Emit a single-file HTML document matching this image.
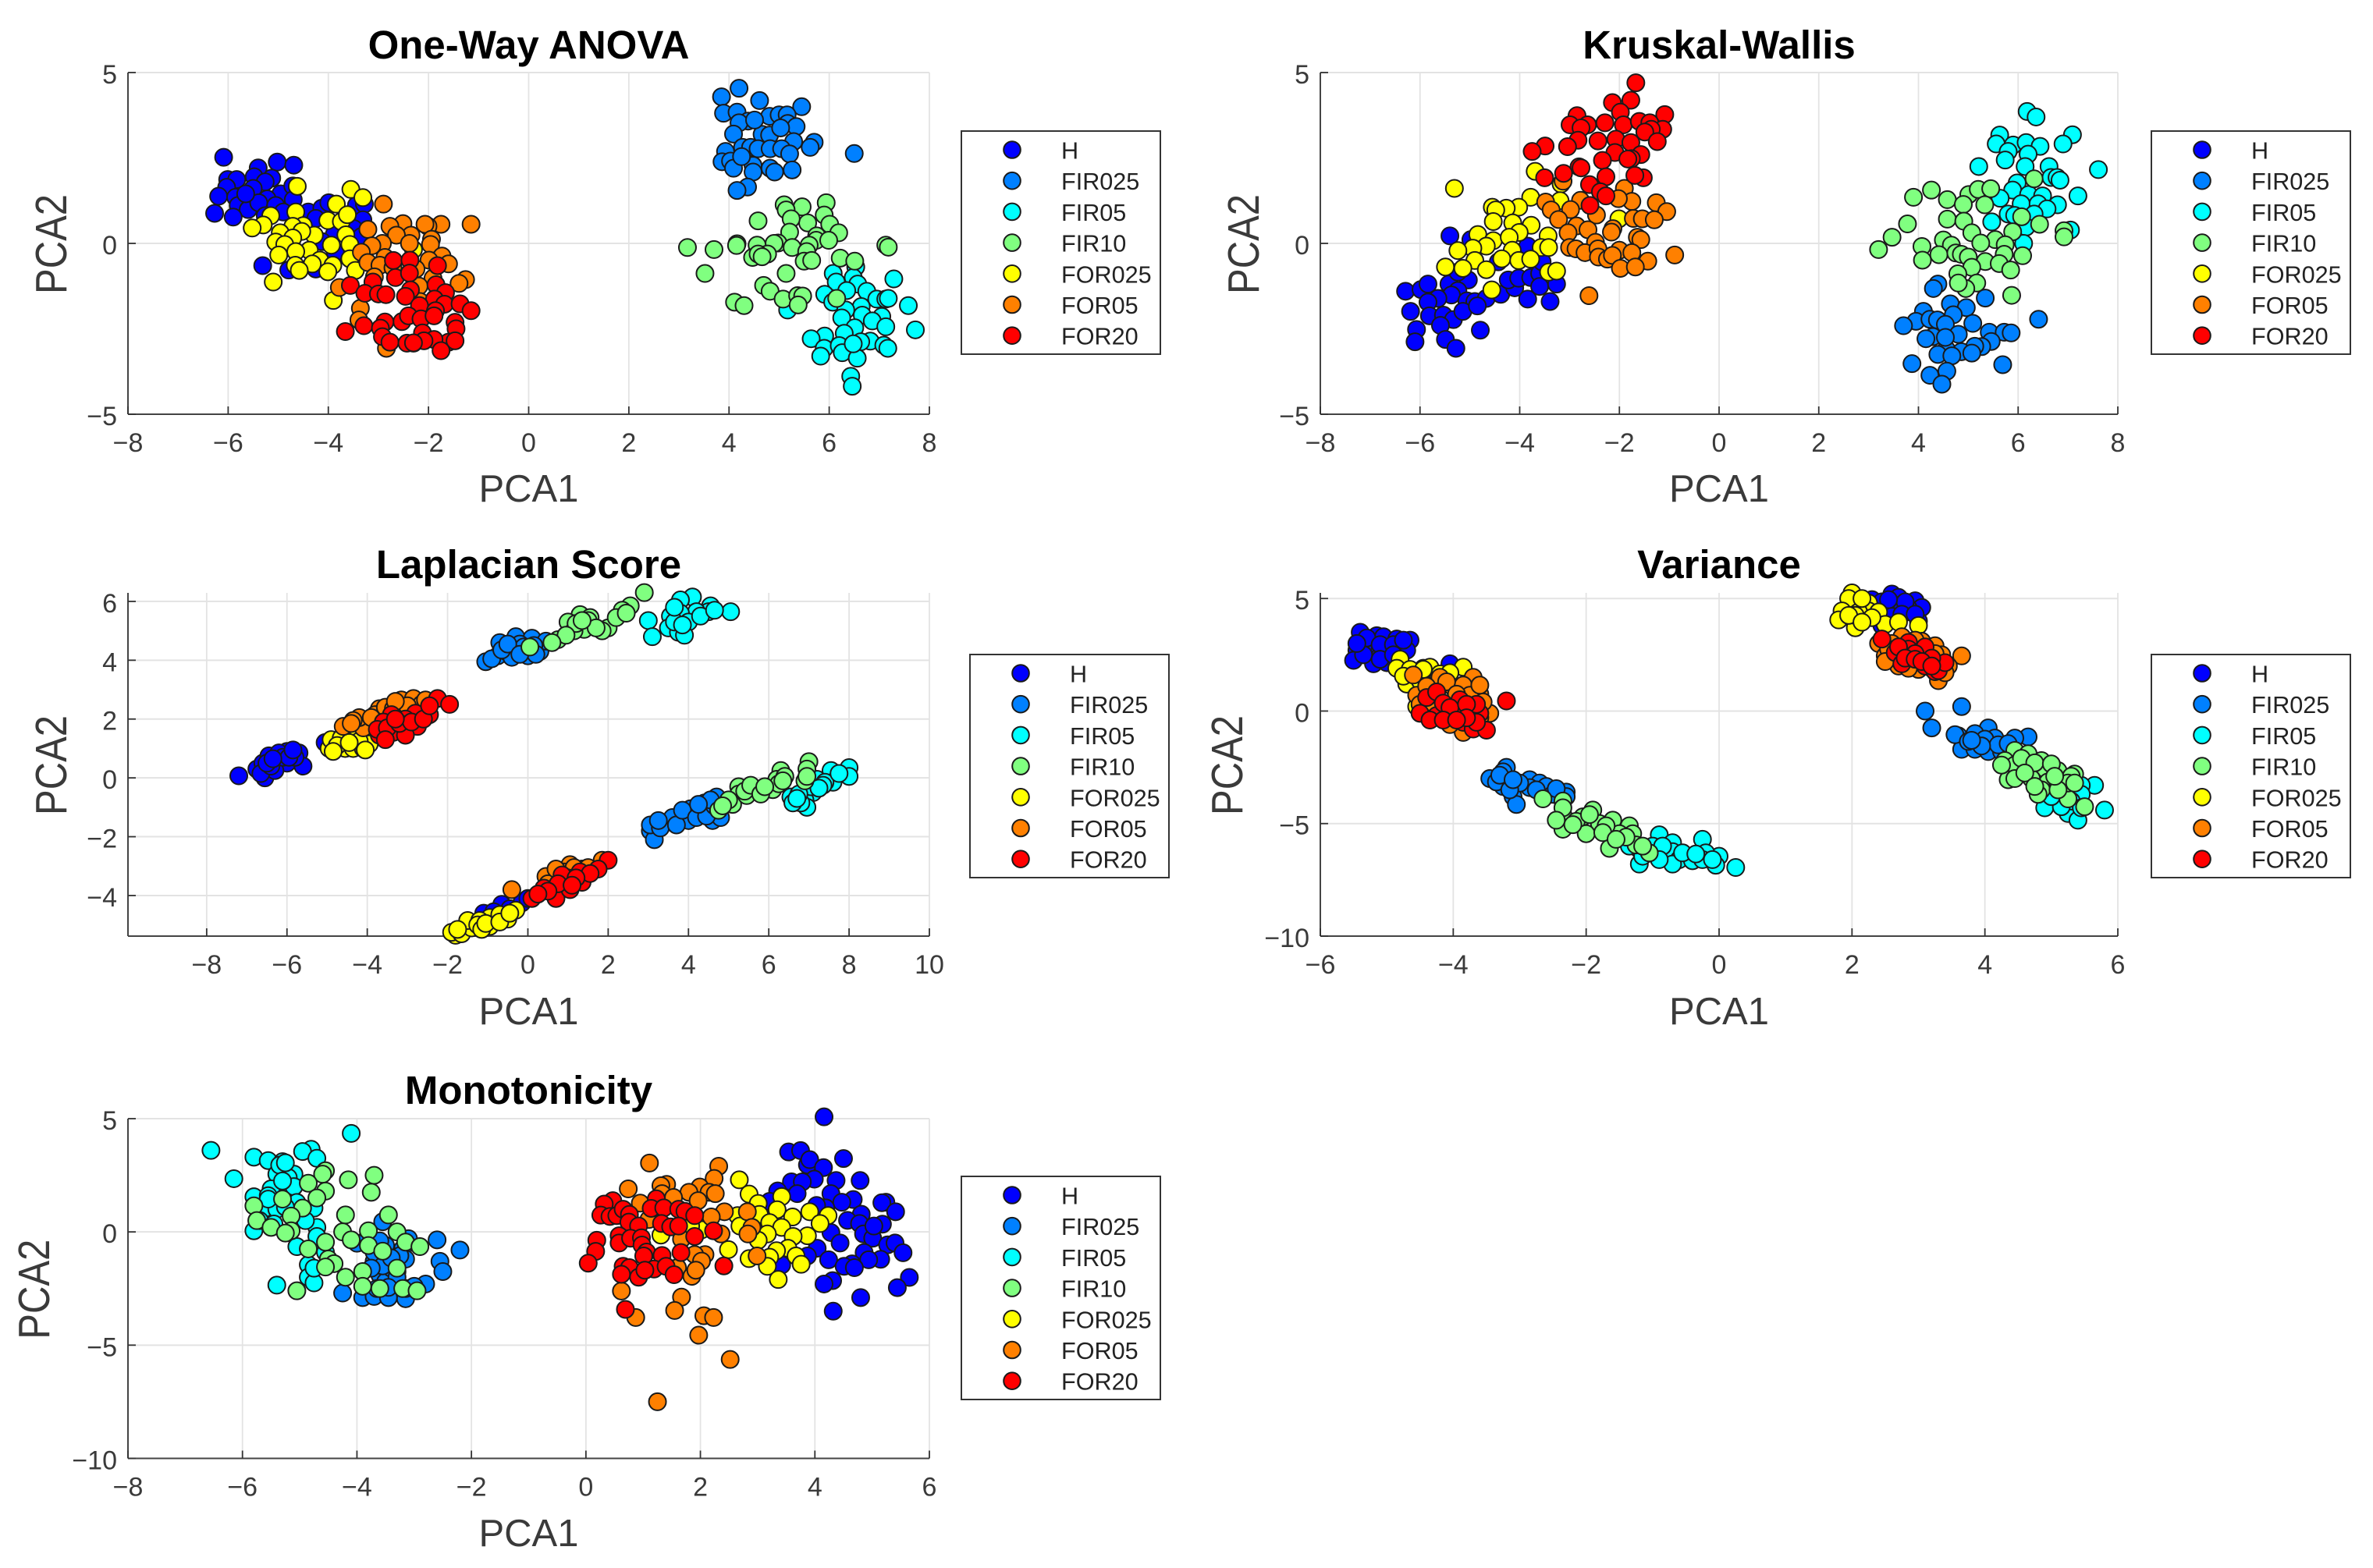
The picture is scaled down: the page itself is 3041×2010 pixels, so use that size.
<!DOCTYPE html>
<html lang="en">
<head>
<meta charset="utf-8">
<title>PCA scatter plots by feature selection method</title>
<style>
html,body{margin:0;padding:0;background:#fff;}
svg{display:block;}
text{font-family:"Liberation Sans",Arial,sans-serif;}
</style>
</head>
<body>
<svg id="figure" xmlns="http://www.w3.org/2000/svg" width="3041" height="2010" viewBox="0 0 3041 2010"></svg>
<script>
const classNames = ["H","FIR025","FIR05","FIR10","FOR025","FOR05","FOR20"];
const classColors = ["#0000ff","#0080ff","#00ffff","#80ff80","#ffff00","#ff8000","#ff0000"];

/* One-Way ANOVA: [PCA1, PCA2] */
const anovaH = [[-6.09,2.52],[-5.02,2.38],[-4.69,2.29],[-5.4,2.21],[-6.01,1.87],[-5.83,1.87],[-5.48,1.95],[-5.13,1.91],[-5.26,1.8],[-6.03,1.64],[-5.5,1.61],[-4.95,1.45],[-4.71,1.68],[-6.19,1.38],[-5.85,1.35],[-5.22,1.3],[-4.7,1.28],[-5.8,1.11],[-5.6,.99],[-6.27,.88],[-5.9,.77],[-5.39,1.19],[-5.65,1.45],[-5.05,1.11],[-4.9,.92],[-5.26,.81],[-4.4,.92],[-4.13,1.03],[-3.99,1.19],[-4.25,.73],[-3.44,1.11],[-3.28,1.15],[-3.31,.69],[-3.49,.43],[-3.88,.27],[-4.12,.05],[-3.86,-.26],[-5.31,-.65],[-4.79,-.78],[-4.25,-.75],[-3.34,.2]];
const anovaFIR025 = [[4.2,4.54],[3.85,4.29],[4.61,4.18],[5.45,4],[3.89,3.81],[4.16,3.84],[4.38,3.58],[4.81,3.72],[5,3.76],[5.16,3.76],[5.17,3.51],[5.34,3.42],[4.2,3.53],[4.09,3.2],[4.66,3.19],[4.81,3.17],[5.29,2.98],[5.7,2.96],[5.62,2.81],[6.5,2.63],[3.93,2.69],[4.27,2.81],[4.43,2.81],[4.58,2.77],[4.82,2.77],[5.05,2.77],[5.21,2.62],[3.86,2.39],[4.03,2.41],[4.09,2.2],[4.48,2.28],[4.48,2.09],[4.82,2.2],[4.91,2.09],[5.26,2.15],[4.37,1.65],[4.16,1.55],[4.25,2.54],[5.03,3.38],[4.51,3.61]];
const anovaFIR05 = [[6.53,-.69],[6.08,-.88],[6.14,-1.13],[6.48,-1],[6.57,-1.19],[7.29,-1.04],[5.91,-1.49],[6.75,-1.4],[6.35,-1.38],[6.95,-1.63],[7.13,-1.63],[7.18,-1.61],[7.58,-1.82],[6.07,-1.72],[6.64,-1.85],[6.33,-1.95],[6.25,-2.18],[6.66,-2.1],[7.05,-2.14],[5.17,-1.95],[6.86,-2.27],[6.51,-2.47],[7.13,-2.44],[7.72,-2.53],[6.3,-2.63],[5.91,-2.71],[5.64,-2.79],[6.82,-2.86],[6.63,-2.88],[5.9,-3.07],[6.2,-2.99],[7.09,-2.98],[7.17,-3.07],[6.26,-3.2],[5.83,-3.3],[6.56,-3.36],[6.43,-3.89],[6.46,-4.18],[6.48,-2.94]];
const anovaFIR10 = [[5.94,1.19],[5.1,1.13],[5.46,1.07],[5.14,.98],[5.9,.83],[4.58,.66],[5.57,.6],[5.24,.72],[6.01,.56],[6.19,.31],[5.21,.33],[5.75,.22],[5.74,.09],[5.99,.09],[4.98,.01],[4.9,0],[4.16,-.01],[4.15,-.06],[4.56,-.05],[5.26,-.12],[3.17,-.12],[3.7,-.18],[7.13,-.05],[7.18,-.11],[5.6,-.05],[5.55,-.24],[4.47,-.41],[4.77,-.31],[4.58,-.31],[4.66,-.39],[5.5,-.52],[5.65,-.5],[6.22,-.43],[6.51,-.52],[3.52,-.88],[5.14,-.88],[4.69,-1.23],[4.82,-1.4],[5.08,-1.63],[5.37,-1.53],[5.47,-1.54],[5.38,-1.8],[4.11,-1.72],[4.3,-1.82],[6.15,-1.61]];
const anovaFOR025 = [[-4.62,1.67],[-3.55,1.58],[-3.31,1.34],[-3.84,1.15],[-4.65,.92],[-5.15,.81],[-5.3,.54],[-5.52,.45],[-4.01,.67],[-3.74,.64],[-3.62,.84],[-4.5,.52],[-4.71,.5],[-4.96,.31],[-4.28,.24],[-3.65,.25],[-4.53,.35],[-4.71,.16],[-5.05,.04],[-4.87,-.03],[-3.57,-.03],[-3.94,-.05],[-4.38,-.2],[-4.65,-.24],[-4.99,-.34],[-3.57,-.45],[-4.17,-.49],[-4.32,-.6],[-3.91,-.64],[-4.66,-.64],[-4.58,-.79],[-4.01,-.83],[-3.46,-.79],[-5.1,-1.13],[-3.9,-1.67],[-2.3,-.18]];
const anovaFOR05 = [[-2.9,1.15],[-1.15,.56],[-1.75,.56],[-2.01,.5],[-2.07,.56],[-2.51,.58],[-2.77,.5],[-3.21,.41],[-2.35,.24],[-2.64,.24],[-1.94,.12],[-1.96,-.03],[-2.38,0],[-2.92,0],[-3.13,-.07],[-3.34,-.26],[-1.73,-.37],[-1.99,-.49],[-2.87,-.41],[-1.6,-.6],[-3.21,-.56],[-2.97,-.64],[-2.25,-.75],[-1.26,-1.06],[-1.39,-1.17],[-3.08,-.98],[-3.78,-1.29],[-1.91,-1.02],[-2.19,-1.25],[-3.36,-1.9],[-3.39,-2.24],[-2.17,-1.7],[-2.84,-3.07],[-2.3,-2.92],[-2.71,-.71]];
const anovaFOR20 = [[-2.7,-.5],[-2.37,-.49],[-1.82,-.65],[-2.66,-1],[-3.11,-1.13],[-3.56,-1.23],[-2.38,-.87],[-2.36,-1.36],[-2.46,-1.55],[-1.85,-1.21],[-3.27,-1.46],[-3,-1.48],[-2.85,-1.5],[-1.66,-1.44],[-1.88,-1.63],[-2.18,-1.82],[-1.68,-1.78],[-1.37,-1.77],[-1.86,-1.97],[-1.15,-1.97],[-2.53,-2.29],[-2.4,-2.12],[-2.15,-2.21],[-1.89,-2.12],[-1.47,-2.31],[-1.45,-2.5],[-3.29,-2.41],[-2.87,-2.3],[-2.96,-2.48],[-3.66,-2.58],[-2.92,-2.73],[-2.77,-2.89],[-2.12,-2.62],[-1.6,-2.89],[-1.47,-2.85],[-1.89,-2.81],[-2.09,-2.85],[-2.43,-2.92],[-2.3,-2.91],[-1.75,-3.14]];

/* Kruskal-Wallis */
const kruskalH = [[-5.4,.22],[-4.98,.11],[-3.84,-.08],[-6.29,-1.4],[-5.98,-1.35],[-5.84,-1.19],[-5.42,-1.19],[-5.03,-1.07],[-5.24,-.84],[-5.24,-1.38],[-5.37,-1.51],[-5.64,-1.61],[-5.84,-1.72],[-5.06,-1.68],[-4.9,-1.7],[-4.67,-1.61],[-4.38,-1.49],[-4.1,-1.3],[-4.23,-1.07],[-4.02,-1.02],[-3.78,-1],[-3.6,-.88],[-3.6,-1.26],[-3.26,-1.19],[-3.84,-1.63],[-3.39,-1.7],[-6.19,-1.99],[-5.81,-2.12],[-5.53,-2.1],[-5.33,-2.23],[-5.14,-1.99],[-4.85,-1.83],[-5.59,-2.4],[-6.07,-2.52],[-4.79,-2.54],[-6.1,-2.88],[-5.49,-2.81],[-5.28,-3.07],[-4.43,-.54],[-3.55,-.54]];
const kruskalFIR025 = [[4.39,-1.19],[4.3,-1.32],[5.34,-1.6],[4.64,-1.77],[4.96,-1.88],[4.1,-1.99],[4.7,-2.09],[6.41,-2.22],[3.95,-2.28],[3.7,-2.41],[4.23,-2.22],[4.38,-2.24],[4.54,-2.37],[5.09,-2.34],[5.42,-2.6],[5.72,-2.6],[5.86,-2.62],[4.8,-2.66],[4.29,-2.73],[4.15,-2.79],[4.56,-3.1],[5.46,-2.87],[5.27,-3.02],[5.13,-3.01],[4.39,-3.25],[4.86,-3.17],[5.07,-3.21],[4.67,-3.29],[3.87,-3.52],[5.69,-3.55],[4.57,-3.74],[4.23,-3.86],[4.47,-4.12],[4.54,-2.75]];
const kruskalFIR05 = [[6.18,3.86],[6.36,3.7],[7.09,3.18],[6.9,2.91],[5.63,3.17],[5.56,2.91],[5.9,2.88],[6.16,2.95],[6.44,2.84],[6.2,2.61],[5.8,2.69],[5.74,2.44],[5.21,2.25],[6.14,2.25],[6.62,2.25],[7.61,2.16],[6.66,1.93],[6.78,1.93],[6.84,1.85],[5.98,1.77],[5.89,1.56],[6.21,1.43],[6.49,1.39],[5.64,1.32],[7.2,1.39],[6.79,1.13],[6.06,1.16],[6.4,1.16],[6.58,1.01],[5.8,.86],[5.93,.82],[5.47,.63],[6.32,.86],[6.16,.48],[7.05,.39],[6.11,0]];
const kruskalFIR10 = [[6.32,1.89],[4.26,1.56],[3.9,1.35],[4.58,1.28],[5.01,1.43],[5.2,1.58],[5.45,1.6],[4.9,1.14],[5.33,1.13],[4.58,.71],[4.91,.65],[6.07,.78],[6.43,.56],[3.78,.57],[5.89,.34],[5.07,.31],[3.47,.18],[4.5,.1],[6.92,.37],[6.92,.19],[5.54,.11],[5.74,-.04],[5.25,.01],[4.66,-.05],[3.2,-.18],[4.07,-.09],[4.08,-.49],[4.41,-.33],[4.75,-.28],[4.86,-.32],[5,-.4],[5.72,-.32],[6.09,-.36],[5.34,-.53],[5.62,-.59],[5.85,-.78],[5.07,-.7],[4.79,-.89],[5.17,-1.16],[4.95,-1.32],[5.87,-1.52],[4.8,-1.16]];
const kruskalFOR025 = [[-5.31,1.61],[-3.69,2.11],[-3.17,1.74],[-3.19,1.25],[-3.78,1.35],[-4.02,1.06],[-4.27,1.03],[-4.55,1.06],[-4.48,.98],[-4.53,.64],[-4.14,.6],[-3.77,.53],[-4.01,.32],[-2.01,.72],[-3.43,.22],[-4.84,.26],[-4.53,.08],[-4.21,.18],[-4.67,-.08],[-4.94,-.14],[-5.24,-.21],[-3.57,-.12],[-3.42,-.12],[-4.15,-.2],[-4.9,-.5],[-4.36,-.45],[-4.02,-.5],[-3.78,-.46],[-5.49,-.69],[-5.14,-.73],[-4.67,-.77],[-3.42,-.84],[-3.26,-.81],[-4.56,-1.36]];
const kruskalFOR05 = [[-1.9,1.61],[-2.78,1.26],[-1.75,1.23],[-2.02,1.31],[-1.26,1.19],[-1.05,.93],[-3.48,1.21],[-2.98,.99],[-3.37,.98],[-2.46,.83],[-3.22,.7],[-1.72,.73],[-1.54,.72],[-1.3,.69],[-2.86,.51],[-2.63,.4],[-3.03,.31],[-2.13,.43],[-2.16,.33],[-1.64,.18],[-1.57,.11],[-2.48,.03],[-3,-.12],[-2.87,-.16],[-2.69,-.27],[-2.43,-.16],[-2,-.2],[-1.75,-.27],[-2.42,-.4],[-2.24,-.46],[-2.14,-.35],[-1.43,-.52],[-1.98,-.73],[-1.68,-.69],[-.89,-.34],[-2.61,-1.53],[-3.13,1.82]];
const kruskalFOR20 = [[-1.67,4.7],[-2.14,4.12],[-1.77,4.19],[-1.98,3.84],[-1.09,3.77],[-2.85,3.74],[-2.99,3.47],[-2.64,3.47],[-2.77,3.38],[-2.29,3.53],[-1.92,3.47],[-1.6,3.57],[-1.39,3.53],[-1.13,3.34],[-1.36,3.34],[-1.49,3.26],[-1.24,2.98],[-2.07,3.05],[-1.77,2.95],[-2.43,3],[-2.83,3.02],[-3.04,2.83],[-3.49,2.85],[-3.75,2.69],[-2.09,2.66],[-1.57,2.6],[-1.76,2.48],[-2.34,2.43],[-1.83,2.47],[-2.81,2.24],[-2.77,2.21],[-3.12,2.05],[-3.5,1.92],[-1.52,1.92],[-1.69,1.99],[-2.27,1.95],[-2.6,1.72],[-2.38,1.51],[-2.27,1.39],[-2.59,1.11]];

/* Laplacian Score */
const laplacianH = [[-7.2,.07],[-6.75,.3],[-6.55,0],[-6.6,.5],[-6.45,.75],[-6.2,.6],[-6,.9],[-6,.5],[-5.7,.85],[-5.6,.4],[-6.3,.25],[-5.8,.7],[-6.65,.15],[-6.4,.4],[-6.2,.85],[-6.5,.5],[-6.1,.7],[-5.95,.7],[-6.35,.65],[-5.85,.95],[-5.05,1.2],[-1.1,-4.6],[-.65,-4.3],[-.15,-4.25],[-.85,-4.55],[0,-4.1],[-.45,-4.45]];
const laplacianFIR025 = [[-1.05,3.95],[-.75,4.15],[-.55,4.3],[-.35,4.3],[-.7,4.6],[-.3,4.8],[.1,4.75],[0,4.15],[.3,4.3],[.45,4.65],[-.2,4.55],[-.4,4.1],[-.1,4.45],[-.9,4.05],[-.65,4.35],[-.5,4.55],[.15,4.5],[.2,4.2],[-.2,4.2],[3.05,-1.8],[3.15,-2.1],[3.05,-1.6],[3.5,-1.5],[3.6,-1.35],[4,-1.45],[4.05,-1.05],[4.4,-.85],[4.6,-1.45],[4.7,-.65],[4.8,-1.35],[4.3,-1.2],[4.5,-1.1],[3.3,-1.7],[3.7,-1.6],[3.85,-1.1],[4.2,-1.35],[4.45,-1.3],[4.65,-.95],[4.55,-.75],[3.25,-1.45],[4.25,-.9]];
const laplacianFIR05 = [[4.1,6.15],[3.8,6.05],[4.55,5.85],[5.05,5.65],[4.5,5.65],[4.2,5.65],[3.8,5.6],[3.55,5.5],[3,5.35],[4,5.3],[3.5,5.1],[3.1,4.8],[3.75,4.95],[3.9,4.85],[3.65,5.3],[4.3,5.5],[4.65,5.7],[3.85,5.2],[3.65,5.8],[8,.35],[8,.05],[7.55,.25],[7.6,-.15],[7.2,-.05],[7.4,-.15],[7.1,-.5],[6.55,-.65],[6.9,-.75],[6.95,-1],[6.8,-.85],[7.75,.15],[7.35,-.25],[7.05,-.3],[6.6,-.85],[6.75,-.55],[7.25,-.35],[6.7,-.7]];
const laplacianFIR10 = [[2.9,6.3],[2.55,5.85],[2.35,5.7],[1.3,5.55],[1.55,5.45],[1,5.3],[1.5,5.35],[2,5.1],[1.4,5.05],[1.15,5],[.75,4.7],[.05,4.45],[1.85,5],[2.2,5.45],[1.2,5.25],[1.7,5.1],[2.45,5.6],[.95,4.85],[.6,4.6],[1.35,5.35],[7,.55],[6.3,.25],[6.95,.3],[6.2,-.05],[6.9,-.1],[5.25,-.3],[5.65,-.4],[6.1,-.4],[5.25,-.55],[5.1,-.9],[4.75,-1.1],[5.45,-.6],[6.95,.05],[6.4,.05],[5.4,-.45],[5.55,-.25],[5.8,-.55],[5,-.75],[4.85,-.95],[6.25,-.2],[5.9,-.3],[6.35,-.1]];
const laplacianFOR025 = [[-4.95,1],[-4.9,1.3],[-4.55,1],[-4.35,1],[-4.1,1],[-3.95,1.15],[-4.65,1.35],[-4.3,1.3],[-4.75,1.1],[-4.2,1.25],[-4.45,1.2],[-4.85,.9],[-4.05,.95],[-1.8,-5.35],[-1.9,-5.25],[-1.65,-5.3],[-1.4,-5.1],[-1.5,-4.85],[-.95,-5.05],[-.95,-4.75],[-.5,-4.8],[-.7,-4.65],[-.3,-4.5],[-1.2,-4.85],[-1.25,-5],[-1.15,-5.15],[-1.75,-5.15],[-1.05,-4.95],[-.7,-4.9],[-.45,-4.6]];
const laplacianFOR05 = [[-4.6,1.75],[-4.1,1.7],[-4.2,2.05],[-3.7,2.35],[-3.5,2.2],[-3.15,2.65],[-2.85,2.7],[-3.2,2.4],[-2.65,2.5],[-4.35,1.95],[-2.55,2.65],[-3.8,2.15],[-4.4,1.85],[-3.9,2.05],[-3.55,2.4],[-3.35,2.35],[-3,2.45],[-3.3,2.6],[-.4,-3.8],[1.05,-2.95],[.45,-3.35],[1.35,-3.1],[.9,-3.2],[.5,-3.6],[1.85,-2.8],[1.15,-3.05],[.7,-3.1],[1.5,-3.05],[1,-3.4]];
const laplacianFOR20 = [[-2.25,2.7],[-1.95,2.5],[-2.8,2.2],[-2.45,2.15],[-3.4,2.15],[-3.6,1.9],[-3.05,2],[-2.75,1.75],[-3.35,1.55],[-3.7,1.45],[-3.05,1.45],[-3.75,1.65],[-3.5,1.7],[-3.2,1.85],[-2.9,1.9],[-2.6,2],[-3.3,2],[-2.45,2.45],[-3.55,1.3],[2,-2.8],[1.75,-3.1],[1.3,-3.2],[1.35,-3.55],[.95,-3.55],[.85,-3.3],[.4,-3.75],[.7,-4.1],[.1,-4.1],[1.05,-3.8],[1.55,-3.25],[1.2,-3.4],[.75,-3.6],[.5,-3.85],[1.1,-3.65],[.25,-3.95]];

/* Variance */
const varianceH = [[-5.4,3.5],[-5.15,3.35],[-5.05,3.3],[-4.85,3.2],[-4.65,3.15],[-4.8,2.9],[-4.7,2.7],[-5.45,2.7],[-5.5,2.25],[-5.25,2.45],[-5,2.7],[-5.2,2.1],[-5,2.15],[-5.25,3],[-4.05,2.1],[-4.45,1.9],[-5.35,2.9],[-5.1,2.45],[-5.3,3.25],[-5.1,2.95],[-4.9,2.95],[-5.35,2.5],[-5.1,2.3],[-4.9,2.5],[-5.45,3],[-4.75,3.15],[2.6,5.2],[2.3,4.95],[2.7,5.05],[2.95,4.9],[3.05,4.6],[2.65,4.7],[2.85,4.55],[2.5,4.6],[3,4],[2.45,3.8],[2.6,4.2],[2.8,4.85],[2.45,4.85],[2.75,4.3],[2.95,4.3],[2.55,4.95]];
const varianceFIR025 = [[-3.2,-2.5],[-3.25,-2.7],[-3.45,-3],[-2.85,-3.05],[-3.25,-3.35],[-2.7,-3.2],[-2.6,-3.35],[-2.3,-3.6],[-3.1,-3.8],[-3.05,-4.15],[-2.3,-3.8],[-2.85,-3.4],[-3.35,-3.15],[-3.3,-2.85],[-3,-3.2],[-3.15,-3.5],[-2.5,-3.7],[-2.45,-3.45],[-2.75,-3.5],[-3.1,-3.05],[3.1,0],[3.65,.2],[3.2,-.75],[4.05,-.75],[3.6,-1.1],[3.85,-1],[4.65,-1.15],[4.45,-1.2],[4.15,-1.2],[3.65,-1.7],[3.85,-1.7],[4.05,-1.8],[4.25,-1.8],[3.55,-1.05],[3.75,-1.35],[4,-1.25],[4.2,-1.5],[3.95,-1.55],[4.35,-1.45],[3.8,-1.3]];
const varianceFIR05 = [[-.9,-5.5],[-.25,-5.7],[-1,-6],[-.7,-5.85],[-1.2,-6.15],[-.7,-6.25],[0,-6.45],[-.2,-6.3],[-.6,-6.6],[-.4,-6.65],[-.25,-6.6],[-.7,-6.8],[-.05,-6.85],[-1.2,-6.8],[.25,-6.95],[-1.35,-6],[-.95,-6.4],[-1.1,-6.3],[-.85,-6],[-.55,-6.3],[-.35,-6.35],[-.9,-6.6],[-1.15,-6.45],[-.1,-6.6],[5.65,-3.3],[5.45,-3.3],[5.8,-4.4],[5.25,-3.45],[5.05,-4],[4.9,-4.3],[5.25,-4.55],[5.4,-4.85],[5.45,-3.7],[5.1,-3.6],[5.3,-4],[5.45,-4.3],[5.15,-4.25],[5,-3.8]];
const varianceFIR10 = [[-2.65,-3.9],[-2.35,-4],[-1.9,-4.4],[-2.35,-4.6],[-2.05,-4.7],[-2.15,-4.9],[-1.6,-4.85],[-1.8,-5],[-2.35,-5.25],[-1.35,-5.1],[-2,-5.45],[-1.5,-5.45],[-1.3,-5.45],[-1.65,-6.1],[-1.25,-5.95],[-1.05,-6.3],[-1.95,-4.6],[-2.35,-4.3],[-1.7,-5.1],[-2.2,-5.05],[-1.4,-5.6],[-1.75,-5.4],[-1.55,-5.7],[-1.15,-6],[-2.45,-4.85],[4.45,-1.75],[4.65,-1.9],[4.3,-2.2],[4.45,-2.4],[4.7,-2.5],[4.85,-2.2],[4.9,-2.55],[5.1,-2.65],[5.35,-2.8],[4.35,-3.05],[4.45,-3],[4.7,-3],[4.95,-3.15],[4.85,-3.5],[5.25,-3.9],[5.5,-4.25],[4.8,-3.7],[5.3,-2.9],[5.1,-3.25],[4.55,-2.1],[4.75,-2.3],[5,-2.35],[4.6,-2.75],[5.25,-3.2],[5.1,-3.5],[4.75,-3.35],[5.35,-3.2],[5.05,-2.9],[4.25,-2.4]];
const varianceFOR025 = [[-4.8,2.3],[-4.85,1.9],[-4.35,1.95],[-3.85,1.95],[-4.2,1.65],[-4.5,1.6],[-4.7,1.2],[-4.4,1.15],[-4.55,.2],[-4.2,1.35],[-4.65,1.85],[-4.05,1.7],[-4.5,1.35],[-4.75,1.55],[-4.45,1.85],[2,5.25],[1.95,5],[2.25,4.8],[1.85,4.45],[2.25,4.45],[1.8,4.05],[2.05,3.7],[2.4,4.4],[2.5,3.85],[2.7,3.95],[3,3.8],[2.1,4.4],[2.15,5],[2.05,4.25],[2.3,4.15],[1.95,4.25],[2.15,3.95]];
const varianceFOR05 = [[-4.6,1.6],[-4.2,1.5],[-3.7,1.5],[-4,1.05],[-3.85,1.15],[-3.6,.75],[-4.55,.7],[-3.75,.7],[-3.45,-.1],[-3.85,-.95],[-4.25,.85],[-3.55,.4],[-4.4,1.1],[-4.1,1.3],[-3.95,.75],[-4.5,.3],[-3.9,.25],[-3.6,-.3],[-4.05,-.6],[-3.7,-.6],[-4.3,.35],[-3.6,1.15],[3.65,2.45],[3.25,2.9],[3.05,3.1],[2.75,3.3],[2.4,3],[2.5,2.45],[3.3,1.35],[3.45,2],[3,1.85],[2.7,2],[3.35,2.5],[3.15,2.4],[2.95,3.15],[2.6,3],[2.55,2.75],[2.85,1.9],[3.25,2.55],[3.4,1.7],[3.2,1.9],[2.5,2.2]];
const varianceFOR20 = [[-3.2,.45],[-4.4,.6],[-4.25,.85],[-3.9,.5],[-4.5,-.1],[-4.25,-.2],[-3.95,-.05],[-3.8,0],[-3.6,-.1],[-3.65,.3],[-3.85,-.5],[-3.7,-.8],[-3.5,-.85],[-4.35,-.4],[-4.05,-.2],[-4.15,.35],[-4.05,.15],[-3.8,.3],[-3.65,-.5],[-3.8,-.3],[-4.15,-.4],[-3.95,-.4],[2.45,3.2],[2.85,3.05],[2.65,2.6],[2.85,2.75],[3.05,2.7],[3.1,2.85],[2.95,2.55],[2.75,2.1],[3.1,2],[3.35,2.1],[3.25,1.75],[3.3,1.8],[3.4,2.15],[2.7,2.85],[2.8,2.35],[2.95,2.3],[3.2,2.35],[3.05,2.2],[3.2,2]];

/* Monotonicity */
const monotonicityH = [[4.16,5.08],[3.54,3.53],[3.75,3.59],[4.5,3.24],[3.87,2.96],[3.91,3.19],[4.15,2.84],[3.99,2.33],[4.37,2.27],[4.79,2.27],[3.59,2.21],[3.78,2.21],[3.35,1.81],[3.69,1.69],[4.28,1.69],[4.67,1.43],[4.47,1.31],[5.24,1.31],[5.17,1.29],[5.41,.89],[4.81,.78],[4.19,1.06],[4.03,1.17],[3.21,1.35],[4.57,.51],[4.78,.37],[5.18,.34],[4.28,-.03],[4.85,-.09],[5.01,-.28],[4.44,-.49],[5.27,-.57],[5.4,-.49],[4.04,-.72],[4.86,-.91],[5.54,-.92],[4.24,-1.23],[5.15,-1.21],[4.65,-1.41],[4.51,-1.52],[4.94,-1.23],[4.69,-1.58],[3.42,-1.46],[5.65,-2.01],[4.31,-2.15],[4.16,-2.3],[5.44,-2.46],[4.8,-2.9],[4.32,-3.5],[3.87,-1.06],[5.03,.26]];
const monotonicityFIR025 = [[-3.55,.45],[-2.6,-.35],[-2.2,-.8],[-2.55,-1.3],[-2.5,-1.75],[-2.8,-2.3],[-4.25,-2.7],[-3.9,-2.9],[-3.7,-1.3],[-3.5,-.6],[-3.2,-.75],[-3.1,-.3],[-3.15,-1.2],[-3.8,-.15],[-3.35,-1.9],[-3.6,-1.9],[-3.5,-2.2],[-3.3,-1.75],[-3.7,-2.85],[-3.45,-2.9],[-3.15,-2.95],[-3.15,-2.5],[-3,-2.4],[-3.4,-1.6],[-3.7,-.9],[-3.55,-1.5],[-3.3,-2],[-3.45,-2.45],[-3.25,-1.05],[-3.6,-.4],[-3.4,-1.15],[-3.75,-1.6],[-4,-.5],[-3.65,-2.5]];
const monotonicityFIR05 = [[-4.1,4.35],[-6.55,3.6],[-6.15,2.35],[-4.8,3.65],[-4.95,3.55],[-5.8,3.3],[-5.55,3.15],[-5.3,3.1],[-4.7,3.25],[-5.3,2.8],[-5.1,2.55],[-5.2,2.4],[-5.4,2.55],[-5.5,1.9],[-5.2,1.7],[-5.8,1.55],[-5.55,1.6],[-5.6,1.05],[-5.4,1],[-4.75,1.05],[-5,.6],[-4.7,.2],[-5.8,.05],[-5.05,-.65],[-4.6,-.6],[-4.85,-1.45],[-4.85,-2],[-4.75,-2.25],[-5.4,-2.35],[-5.35,2.95],[-5.25,3.05],[-5.1,2],[-5.3,2.25],[-5.55,1.45],[-5.05,1.3],[-5.25,1.1],[-4.9,.5],[-5.7,.5],[-5.45,.35],[-4.7,-.2],[-4.55,-.9],[-4.75,-1.6]];
const monotonicityFIR10 = [[-3.7,2.5],[-4.55,2.7],[-4.6,2.55],[-4.15,2.3],[-4.85,2.15],[-3.75,1.75],[-4.55,1.8],[-4.7,1.5],[-5.3,1.45],[-4.95,1.05],[-5.8,1.15],[-5.15,.7],[-4.2,.75],[-3.45,.75],[-5.75,.5],[-5.5,.2],[-5.15,.05],[-5.25,-.05],[-4.25,0],[-3.8,.05],[-3.3,0],[-4.55,-.45],[-4.1,-.35],[-3.15,-.45],[-3.8,-.6],[-3.55,-.85],[-2.9,-.65],[-4.85,-.75],[-4.5,-1.2],[-4.4,-1.4],[-4.55,-1.55],[-3.3,-1.6],[-3.9,-1.75],[-4.2,-2],[-3.9,-2.4],[-3.6,-2.5],[-3.2,-2.5],[-2.95,-2.6],[-5.05,-2.6]];
const monotonicityFOR025 = [[2.68,2.3],[2.85,1.67],[3.42,1.56],[3.01,1.26],[3.34,.98],[3.91,.89],[4.23,.72],[3.61,.66],[2.65,.72],[3.03,.77],[3.21,.41],[4.09,.37],[3.42,.2],[2.69,.26],[3.87,-.17],[3.62,-.2],[3.17,-.09],[3.53,-.72],[1.31,-.14],[2.02,.09],[1.83,.26],[2.49,-.78],[3.01,-.37],[3.67,-1.06],[3.33,-.83],[2.85,-1.18],[3.21,-1.12],[3.17,-1.52],[3.76,-1.43],[3.36,-2.1]];
const monotonicityFOR05 = [[1.11,3.04],[2.32,2.9],[2.24,2.36],[.74,1.9],[1.41,2.1],[1.31,2.04],[1.33,1.69],[1.99,1.98],[1.8,1.75],[2.15,1.75],[2.26,1.69],[1.53,1.52],[1.96,1.38],[.95,1.27],[2.42,.89],[2.19,.66],[2.82,.89],[1.1,.55],[2.9,.2],[2.83,-.09],[2.36,-.09],[1.67,-.32],[2.08,-1],[1.9,-1],[2.02,-1.29],[2.99,-1.06],[1.6,-1.58],[1.85,-1.96],[1.92,-1.69],[.62,-2.61],[1.67,-2.88],[1.55,-3.47],[.87,-3.78],[2.06,-3.7],[2.23,-3.78],[1.97,-4.56],[2.52,-5.63],[1.25,-7.5]];
const monotonicityFOR20 = [[.47,1.38],[.32,1.23],[1.23,1.46],[1.14,1.04],[1.36,1.06],[.26,.74],[.42,.68],[.54,.72],[.65,1],[.76,.77],[.75,.43],[1.62,1],[1.73,.91],[1.9,.72],[1.32,.37],[1.48,.22],[1.62,.26],[2.23,.05],[1.9,-.2],[.92,.26],[.58,-.17],[.58,-.49],[.78,-.28],[.19,-.37],[.17,-.86],[.97,-.26],[.98,-.58],[1.06,-.89],[1.01,-1.06],[1.66,-.91],[1.33,-1.04],[2.41,-1.5],[.04,-1.38],[.65,-1.52],[.76,-1.58],[1.19,-1.64],[1.4,-1.52],[.62,-1.87],[.92,-2],[1.54,-1.89],[.69,-3.42],[1.03,-1.69]];

/* Axis ticks */
const anovaXTicks = [-8,-6,-4,-2,0,2,4,6,8];
const anovaYTicks = [-5,0,5];
const laplacianXTicks = [-8,-6,-4,-2,0,2,4,6,8,10];
const laplacianYTicks = [-4,-2,0,2,4,6];
const varianceXTicks = [-6,-4,-2,0,2,4,6];
const varianceYTicks = [-10,-5,0,5];
const monotonicityXTicks = [-8,-6,-4,-2,0,2,4,6];
const monotonicityYTicks = [-10,-5,0,5];

const svg = document.getElementById('figure');
const NS = 'http://www.w3.org/2000/svg';

function make(tag, parent, attrs, content) {
  const node = document.createElementNS(NS, tag);
  for (const key in attrs) node.setAttribute(key, attrs[key]);
  if (content !== undefined) node.textContent = content;
  parent.appendChild(node);
  return node;
}
function fmt(v) { return v < 0 ? '\u2212' + Math.abs(v) : String(v); }

function drawPanel(cfg) {
  const g = make('g', svg, {});
  
  
  const sx = v => cfg.left + (v - cfg.xlim[0]) / (cfg.xlim[1] - cfg.xlim[0]) * (cfg.right - cfg.left);
  const sy = v => cfg.bottom - (v - cfg.ylim[0]) / (cfg.ylim[1] - cfg.ylim[0]) * (cfg.bottom - cfg.top);

  cfg.xticks.forEach(t => {
    const grid = make('line', g, {x1:sx(t), x2:sx(t), y1:cfg.top, y2:cfg.bottom, stroke:'#e3e3e3', 'stroke-width':1.8});
    
    
  });
  cfg.yticks.forEach(t => {
    const grid = make('line', g, {x1:cfg.left, x2:cfg.right, y1:sy(t), y2:sy(t), stroke:'#e3e3e3', 'stroke-width':2});
    
    
  });

  const yAxis = make('line', g, {x1:cfg.left, x2:cfg.left, y1:cfg.top, y2:cfg.bottom, stroke:'#444', 'stroke-width':2});
  
  
  const xAxis = make('line', g, {x1:cfg.left, x2:cfg.right, y1:cfg.bottom, y2:cfg.bottom, stroke:'#444', 'stroke-width':2});
  
  

  cfg.xticks.forEach(t => {
    const tick = make('line', g, {x1:sx(t), x2:sx(t), y1:cfg.bottom, y2:cfg.bottom - 10, stroke:'#333', 'stroke-width':1.8});
    
    
    const label = make('text', g, {x:sx(t), y:cfg.bottom + 48, 'font-size':34, fill:'#3a3a3a', 'text-anchor':'middle'}, fmt(t));
    
    
  });
  cfg.yticks.forEach(t => {
    const tick = make('line', g, {x1:cfg.left, x2:cfg.left + 10, y1:sy(t), y2:sy(t), stroke:'#333', 'stroke-width':1.8});
    
    
    const label = make('text', g, {x:cfg.left - 14, y:sy(t) + 14, 'font-size':34, fill:'#3a3a3a', 'text-anchor':'end'}, fmt(t));
    
    
  });

  const title = make('text', g, {x:(cfg.left + cfg.right) / 2, y:cfg.titleY, 'font-size':51, 'font-weight':'bold', fill:'#000', 'text-anchor':'middle'}, cfg.title);
  
  
  const xLabel = make('text', g, {x:(cfg.left + cfg.right) / 2, y:cfg.xLabelY, 'font-size':49, fill:'#3a3a3a', 'text-anchor':'middle'}, 'PCA1');
  
  
  const yLabel = make('text', g, {transform:'translate(' + cfg.yLabelX + ' ' + ((cfg.top + cfg.bottom) / 2 + 1) + ') scale(1.15 1) rotate(-90)', 'font-size':49, fill:'#3a3a3a', 'text-anchor':'middle'}, 'PCA2');
  
  

  cfg.series.forEach((points, i) => {
    const seriesGroup = make('g', g, {});
    
    
    points.forEach(p => {
      const dot = make('circle', seriesGroup, {cx:sx(p[0]), cy:sy(p[1]), r:11, fill:classColors[i], stroke:'#1a1a1a', 'stroke-width':2});
      
      
    });
  });

  const legend = make('g', g, {});
  
  
  const box = make('rect', legend, {x:cfg.legendX, y:cfg.legendY, width:255, height:286, fill:'#fff', stroke:'#333', 'stroke-width':2});
  
  
  classNames.forEach((name, i) => {
    const cy = cfg.legendY + 24 + i * 39.7;
    const marker = make('circle', legend, {cx:cfg.legendX + 65, cy:cy, r:10.8, fill:classColors[i], stroke:'#1a1a1a', 'stroke-width':2});
    
    
    const entry = make('text', legend, {x:cfg.legendX + 128, y:cy + 11.5, 'font-size':30.6, fill:'#222'}, name);
    
    
  });
}

drawPanel({key:'one-way-anova', title:'One-Way ANOVA', left:164, right:1191, top:93, bottom:531, xlim:[-8,8], ylim:[-5,5], xticks:anovaXTicks, yticks:anovaYTicks, titleY:75, xLabelY:643, yLabelX:85, legendX:1232, legendY:168,
  series:[anovaH,anovaFIR025,anovaFIR05,anovaFIR10,anovaFOR025,anovaFOR05,anovaFOR20]});
drawPanel({key:'kruskal-wallis', title:'Kruskal-Wallis', left:1692, right:2714, top:93, bottom:531, xlim:[-8,8], ylim:[-5,5], xticks:anovaXTicks, yticks:anovaYTicks, titleY:75, xLabelY:643, yLabelX:1613, legendX:2757, legendY:168,
  series:[kruskalH,kruskalFIR025,kruskalFIR05,kruskalFIR10,kruskalFOR025,kruskalFOR05,kruskalFOR20]});
drawPanel({key:'laplacian-score', title:'Laplacian Score', left:164, right:1191, top:760, bottom:1200, xlim:[-9.96,10], ylim:[-5.38,6.29], xticks:laplacianXTicks, yticks:laplacianYTicks, titleY:741, xLabelY:1313, yLabelX:85, legendX:1243, legendY:839,
  series:[laplacianH,laplacianFIR025,laplacianFIR05,laplacianFIR10,laplacianFOR025,laplacianFOR05,laplacianFOR20]});
drawPanel({key:'variance', title:'Variance', left:1692, right:2714, top:760, bottom:1200, xlim:[-6,6], ylim:[-10,5.25], xticks:varianceXTicks, yticks:varianceYTicks, titleY:741, xLabelY:1313, yLabelX:1592, legendX:2757, legendY:839,
  series:[varianceH,varianceFIR025,varianceFIR05,varianceFIR10,varianceFOR025,varianceFOR05,varianceFOR20]});
drawPanel({key:'monotonicity', title:'Monotonicity', left:164, right:1191, top:1434, bottom:1869.5, xlim:[-8,6], ylim:[-10,5], xticks:monotonicityXTicks, yticks:monotonicityYTicks, titleY:1415, xLabelY:1982, yLabelX:63, legendX:1232, legendY:1508,
  series:[monotonicityH,monotonicityFIR025,monotonicityFIR05,monotonicityFIR10,monotonicityFOR025,monotonicityFOR05,monotonicityFOR20]});
</script>
</body>
</html>
